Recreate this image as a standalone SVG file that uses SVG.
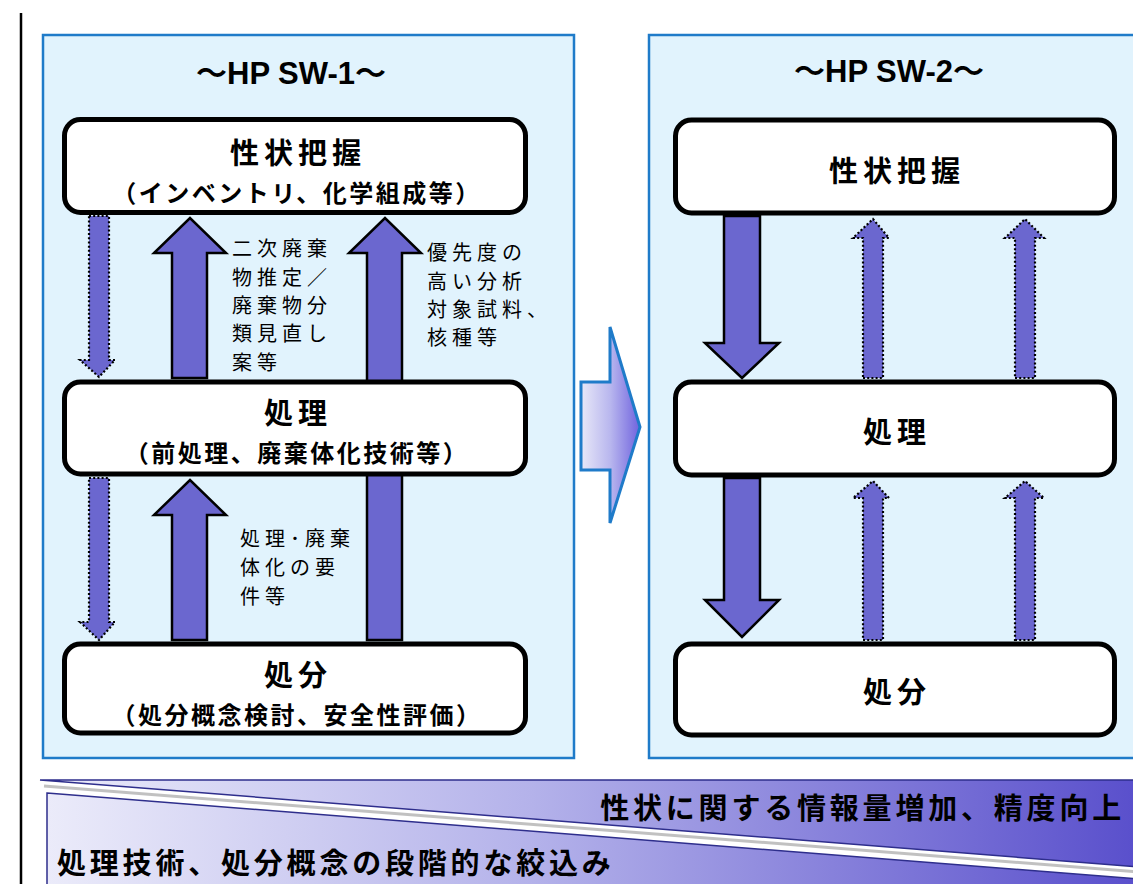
<svg xmlns="http://www.w3.org/2000/svg" width="1133" height="884" viewBox="0 0 1133 884">
<style>
.panel{fill:#E1F3FD;stroke:#1F7BC9;stroke-width:2.5}
.box{fill:#fff;stroke:#000;stroke-width:5}
.arr{fill:#6B67CF;stroke:#000;stroke-width:2.5;stroke-linejoin:miter}
.dot{fill:#6B67CF;stroke:#000;stroke-width:2.2;stroke-dasharray:2 2.2}
.h{font-family:"Noto Sans CJK JP",sans-serif;font-weight:bold;font-size:29px;letter-spacing:5px;text-anchor:middle}
.s{font-family:"Noto Sans CJK JP",sans-serif;font-weight:bold;font-size:24px;letter-spacing:2.5px;text-anchor:middle}
.lab{font-family:"Noto Sans CJK JP",sans-serif;font-size:20px;letter-spacing:5px}
.ttl{font-family:"Liberation Sans","Noto Sans CJK JP",sans-serif;font-weight:bold;font-size:31px;text-anchor:middle}
.band{font-family:"Noto Sans CJK JP",sans-serif;font-weight:bold;font-size:29px;letter-spacing:3.8px}
</style>
<defs>
<linearGradient id="gMid" x1="0" y1="0" x2="1" y2="0">
<stop offset="0" stop-color="#E8E8F8"/><stop offset="0.5" stop-color="#B8B6EE"/><stop offset="1" stop-color="#6F62DE"/>
</linearGradient>
<linearGradient id="gBand" x1="40" y1="0" x2="1133" y2="0" gradientUnits="userSpaceOnUse">
<stop offset="0" stop-color="#ECECFA"/><stop offset="0.45" stop-color="#B4B2EA"/><stop offset="1" stop-color="#5A50CC"/>
</linearGradient>
</defs>
<rect width="1133" height="884" fill="#fff"/>
<line x1="21" y1="13" x2="21" y2="884" stroke="#000" stroke-width="2.5"/>

<g id="panel-sw1">
<rect class="panel" x="43" y="35" width="531" height="723"/>
<text class="ttl" x="291" y="84">～HP SW-1～</text>
</g>
<g id="panel-sw2">
<rect class="panel" x="649" y="35" width="500" height="723"/>
<text class="ttl" x="889" y="82">～HP SW-2～</text>
</g>

<g id="transition-arrow">
<polygon points="581,382 610,382 610,327 640,427 610,523 610,470 581,470" fill="url(#gMid)" stroke="#1F7BC9" stroke-width="3"/>
</g>

<g id="connectors">
<polygon class="dot" points="89,216 109,216 109,360 115,360 99,377 80,360 89,360"/>
<polygon class="dot" points="89,478 109,478 109,622 115,622 99,640 80,622 89,622"/>
<polygon class="arr" points="172,378 207,378 207,253 226,253 190,218 154,253 172,253"/>
<polygon class="arr" points="172,640 207,640 207,515 226,515 190,480 154,515 172,515"/>
<polygon class="arr" points="367,640 402,640 402,253 421,253 385,218 349,253 367,253"/>
<polygon class="arr" points="724,216 760,216 760,343 779,343 742,378 705,343 724,343"/>
<polygon class="arr" points="724,478 760,478 760,600 779,600 742,637 705,600 724,600"/>
<polygon class="dot" points="863,378 883,378 883,238 889,238 873,219 853,238 863,238"/>
<polygon class="dot" points="863,640 883,640 883,498 889,498 873,481 853,498 863,498"/>
<polygon class="dot" points="1015,378 1035,378 1035,238 1044,238 1025,219 1005,238 1015,238"/>
<polygon class="dot" points="1015,640 1035,640 1035,498 1044,498 1025,481 1005,498 1015,498"/>
</g>

<g id="label-a">
<text class="lab" x="232" y="256">二次廃棄</text>
<text class="lab" x="232" y="285">物推定／</text>
<text class="lab" x="232" y="313">廃棄物分</text>
<text class="lab" x="232" y="341">類見直し</text>
<text class="lab" x="232" y="370">案等</text>
</g>
<g id="label-b">
<text class="lab" x="427" y="260">優先度の</text>
<text class="lab" x="427" y="289">高い分析</text>
<text class="lab" x="427" y="317">対象試料、</text>
<text class="lab" x="427" y="345">核種等</text>
</g>
<g id="label-c">
<text class="lab" x="240" y="546">処理･廃棄</text>
<text class="lab" x="240" y="575">体化の要</text>
<text class="lab" x="240" y="604">件等</text>
</g>

<g id="box-l1">
<rect class="box" x="64.5" y="119.5" width="461" height="93" rx="16"/>
<text class="h" x="298" y="164">性状把握</text>
<text class="s" x="297" y="202">（インベントリ、化学組成等）</text>
</g>
<g id="box-l2">
<rect class="box" x="64.5" y="382" width="461" height="92" rx="16"/>
<text class="h" x="298" y="424">処理</text>
<text class="s" x="297" y="462">（前処理、廃棄体化技術等）</text>
</g>
<g id="box-l3">
<rect class="box" x="64.5" y="644" width="461" height="89" rx="16"/>
<text class="h" x="298" y="686">処分</text>
<text class="s" x="297" y="724">（処分概念検討、安全性評価）</text>
</g>
<g id="box-r1">
<rect class="box" x="675.5" y="120" width="439" height="93" rx="16"/>
<text class="h" x="897" y="182">性状把握</text>
</g>
<g id="box-r2">
<rect class="box" x="675.5" y="382" width="439" height="93" rx="16"/>
<text class="h" x="897" y="443">処理</text>
</g>
<g id="box-r3">
<rect class="box" x="675.5" y="644" width="439" height="91" rx="16"/>
<text class="h" x="897" y="703">処分</text>
</g>

<g id="band-top">
<polygon points="40,780 1140,780 1140,867" fill="url(#gBand)" stroke="#2E2E8C" stroke-width="1.5"/>
<text class="band" x="1125" y="819" text-anchor="end">性状に関する情報量増加、精度向上</text>
</g>
<g id="band-bottom">
<line x1="44" y1="786" x2="1140" y2="872" stroke="#A8A8A8" stroke-width="3" opacity="0.7"/>
<polygon points="47,793 1140,879 1140,892 47,892" fill="url(#gBand)" stroke="#2E2E8C" stroke-width="1.5"/>
<text class="band" x="57" y="874">処理技術、処分概念の段階的な絞込み</text>
</g>
</svg>
